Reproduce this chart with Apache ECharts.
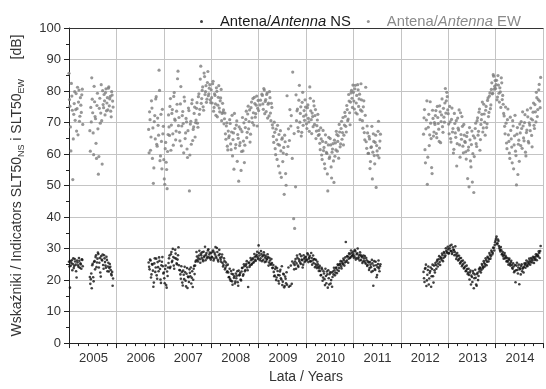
<!DOCTYPE html>
<html>
<head>
<meta charset="utf-8">
<script src="https://cdn.jsdelivr.net/npm/echarts@6/dist/echarts.min.js"></script>
<style>
  html, body { margin: 0; padding: 0; background: #fff; }
  #main { width: 546px; height: 389px; }
</style>
</head>
<body>
<div id="main"></div>
<script>
// two readings per 0.02 year: list A at the segment start, list B 0.01 later; null = no reading
const step = 0.02;
const offsetB = 0.01;
const segStarts = [2005.00, 2005.44, 2006.68, 2007.00, 2008.00, 2009.00, 2010.00, 2011.00, 2012.48, 2013.00, 2014.00];

// Antenna NS [dB], list A
const ns2005a = [25.8, 17.6, 24.6, 26.3, 25.1, 23.8, 26.7, 24.9, 20.8, 25.6, 24.2, 26.1, 25.3, 23.6, 26.4];
const ns2005b = [21.0, 20.3, 17.4, 25.2, 19.6, 26.0, 27.3, 24.1, 26.8, 28.3, 25.5, 22.4, 27.6, 26.2, 24.8, 27.9, 25.7, 23.9, 26.4, 24.3, 22.7, 25.1, 23.2, 21.5, 18.2];
const ns2006 = [25.6, 23.4, 26.2, 21.8, 24.9, 17.9, 25.3, 22.6, 26.8, 20.4, 24.1, 27.2, 23.5, 19.1, 25.8, 24.4];
const ns2007 = [22.4, 19.0, 24.6, 17.6, 21.3,
  25.4, 27.8, 24.2, 28.9, 26.1, 27.3, 23.6, 29.6, 26.8, 25.0, 27.9, 24.7,
  23.1, 20.4, 22.6, 18.3, 21.7, 24.2, 19.8, 22.0, 17.5, 20.9, 23.4, 21.2, 18.9, 22.8, 20.1, 24.5,
  24.6, 26.2, 27.5, 25.9, 27.8, 26.6, 28.4, 27.1, 26.5, 29.0, 27.7, 26.3, 28.6, 27.4, 29.8, 28.1, 27.0];
const ns2008 = [28.6, 27.2, 29.4, 26.8, 28.1, 27.5, 30.2, 26.4, 27.9, 28.3,
  26.5, 27.3, 25.4, 24.8, 26.0, 23.9, 24.6, 22.8,
  22.4, 21.0, 20.3, 22.9, 19.6, 21.8, 20.7, 18.9, 22.1, 21.4, 19.3, 23.0, 21.6, 20.2,
  22.7, 23.9, 21.8, 24.4, 23.2, 25.1, 24.0, 17.8, 25.6, 24.7, 26.3, 25.2, 26.9, 25.8, 27.4, 26.1, 28.0, 27.2];
const ns2009 = [31.0, 27.8, 26.9, 28.3, 27.5, 26.4, 28.0, 27.1, 25.9, 26.8, 27.3, 25.6, 26.2, 24.9, 25.4,
  23.9, 22.6, 21.4, 24.2, 20.8, 22.9, 19.7, 21.5, 23.3, 20.2, 18.4, 22.0, 17.7, 21.1, 19.0,
  18.5, null, 17.9, null, 24.6, 18.8, null, 25.3,
  24.8, 26.7, 25.3, 27.1, 24.2, 26.0, 25.5, 27.6, 26.3, 24.9, 26.8, 27.2];
const ns2010 = [27.4, 26.3, 28.1, 26.8, 27.7, 25.9, 27.0, 26.2, 25.4, 26.6, 25.1, 24.6, 25.8, 24.2, 23.7,
  22.9, 21.6, 23.4, 20.8, 22.1, 18.4, 21.3, 22.7, 17.6, 20.6, 21.9, 18.9, 22.4, 21.0,
  21.8, 23.1, 22.4, 24.0, 23.3, 24.7, 23.8, 25.2, 24.4, 25.9, 25.0, 26.3, 25.6, 32.1, 26.2, 27.5, 26.8, 28.2, 27.3, 28.6,
  27.9];
const ns2011 = [28.3, 27.6, 29.1, 27.0, 28.5, 26.8, 27.9, 28.8, 26.4, 27.3, 25.9, 26.9, 27.6, 25.2, 26.3, 24.8,
  25.6, 23.8, 24.9, 22.6, 25.3, 18.2, 26.0, 23.2, 24.7, 21.6, 25.1, 23.7, 24.4];
const ns2012 = [22.6, 19.4, 23.8, 18.1, 21.7, 24.3, 20.5, 22.9, 17.9, 23.5, 21.2, 24.6, 22.4,
  24.8, 25.9, 24.3, 26.6, 25.7, 27.2, 26.4, 27.9, 27.0, 28.5, 27.8, 29.3, 28.6];
const ns2013 = [29.8, 28.6, 30.9, 29.2, 28.3, 30.4, 29.5, 28.9,
  28.1, 27.4, 27.8, 26.5, 26.9, 25.6, 26.0, 24.8, 25.2, 23.9, 24.3, 23.0, 23.5, 22.4,
  21.6, 22.4, 18.6, 21.0, 22.9, 17.4, 21.8, 20.7, 18.2, 22.3, 21.3,
  22.8, 23.7, 23.2, 24.6, 24.1, 25.4, 25.0, 26.3, 25.8, 27.1, 26.6, 28.0, 27.6, 29.0, 28.6, 30.2, 31.1];
const ns2014 = [32.6, 33.8, 31.7, 32.4,
  30.2, 29.1, 29.5, 28.3, 27.6, 28.0, 26.9, 27.2, 26.1, 25.8, 26.4, 25.2, 25.6,
  24.8, 23.6, 24.3, 22.9, 19.3, 24.6, 23.2, 24.0, 18.7, 23.7, 24.5, 22.8, 23.9, 24.2,
  24.9, 25.3, 24.6, 25.8, 25.4, 26.1, 25.7, 26.5, 26.2, 26.9, 27.3, 26.8, 27.6, 28.1, 27.5, 28.6, 29.2];

// Antenna NS [dB], list B
const ns2005aB = [24.3, 26.0, 25.4, 23.1, 26.9, 24.5, 25.9, 22.8, 26.2, 24.7, 27.0, 23.9, 25.0, 26.6, 24.4];
const ns2005bB = [18.8, 22.1, 24.7, 20.9, 25.8, 23.4, 27.9, 25.6, 28.7, 24.0, 27.0, 21.1, 26.5, 28.1, 23.6, 26.9, 24.6, 27.4, 22.8, 25.5, 23.8, 24.2, 21.9, 22.6, 20.5];
const ns2006B = [24.2, 26.5, 20.8, 25.1, 23.0, 19.2, 26.9, 24.0, 21.5, 25.7, 22.8, 26.1, 20.2, 24.7, 27.3, 22.1];
const ns2007B = [20.6, 23.5, 18.4, 22.7, 24.0,
  26.9, 23.8, 28.2, 25.7, 29.9, 24.6, 27.0, 28.4, 25.3, 26.5, 30.4, 23.2,
  21.8, 24.4, 19.2, 23.0, 20.3, 22.5, 18.0, 23.8, 21.1, 19.4, 22.3, 24.0, 20.7, 17.8, 23.6, 21.9,
  25.8, 28.9, 26.4, 27.0, 29.3, 25.5, 27.9, 28.8, 26.0, 27.3, 30.6, 28.0, 26.9, 29.4, 27.2, 28.7, 26.5];
const ns2008B = [27.4, 29.0, 26.2, 28.7, 30.5, 27.0, 28.9, 25.9, 29.6, 27.1,
  25.8, 28.1, 24.3, 26.9, 23.4, 25.6, 22.5, 24.9,
  20.9, 23.6, 19.8, 22.0, 18.5, 23.3, 21.2, 19.5, 20.6, 22.8, 18.2, 21.5, 22.2, 19.9,
  23.8, 21.4, 25.0, 22.8, 24.6, 26.0, 23.1, 25.4, 24.2, 27.0, 24.9, 26.6, 25.5, 28.3, 26.4, 27.6, 29.0, 26.7];
const ns2009B = [28.6, 26.3, 29.2, 26.0, 27.8, 28.8, 25.7, 27.6, 26.5, 28.2, 24.6, 27.0, 25.1, 26.7, 23.8,
  24.8, 21.2, 23.5, 20.0, 23.8, 21.6, 18.9, 22.7, 20.6, 24.4, 19.5, 21.8, 18.1, 20.4, 22.5,
  null, 24.0, null, 18.2, null, 25.9, null, 23.4,
  25.9, 23.6, 27.8, 24.6, 26.6, 28.2, 25.1, 26.5, 24.0, 27.9, 25.7, 26.1];
const ns2010B = [26.6, 28.5, 25.7, 27.2, 26.0, 28.6, 24.9, 27.8, 26.7, 24.1, 26.4, 23.8, 25.0, 22.9, 24.5,
  21.5, 23.9, 19.8, 22.8, 20.3, 23.6, 19.0, 21.8, 23.1, 18.6, 22.5, 20.0, 17.9, 22.7,
  23.9, 21.5, 23.8, 22.2, 25.0, 22.9, 24.9, 26.0, 23.7, 25.3, 26.8, 24.6, 27.2, 25.8, 27.6, 25.5, 28.5, 27.0, 29.4, 27.6,
  29.0];
const ns2011B = [27.1, 29.5, 26.5, 28.2, 30.0, 27.2, 26.2, 28.0, 27.6, 25.4, 27.8, 26.1, 25.6, 27.0, 24.5, 25.9,
  23.2, 25.7, 24.1, 26.4, 22.9, 24.6, 23.5, 25.8, 20.9, 24.1, 26.2, 22.8, 25.0];
const ns2012B = [20.6, 23.6, 24.9, 19.9, 23.2, 18.6, 22.3, 24.0, 21.2, 24.9, 19.2, 23.1, 25.4,
  23.6, 26.4, 25.2, 27.6, 24.8, 26.9, 28.4, 26.0, 28.9, 27.4, 30.1, 29.0, 30.6];
const ns2013B = [28.4, 30.1, 29.3, 31.2, 28.8, 29.6, 27.9, 30.7,
  26.7, 28.6, 26.2, 27.7, 25.3, 27.0, 24.4, 26.2, 23.7, 25.6, 22.8, 24.6, 21.9, 23.6,
  20.2, 23.0, 21.4, 19.4, 22.2, 20.6, 23.3, 18.6, 21.9, 20.0, 23.5,
  24.0, 22.4, 25.1, 23.7, 26.0, 24.3, 26.9, 24.7, 27.4, 25.9, 28.6, 26.8, 29.4, 28.1, 30.3, 29.4, 32.0];
const ns2014B = [33.2, 31.4, 32.9, 30.8,
  29.6, 30.5, 28.1, 28.9, 26.8, 28.6, 27.7, 25.9, 27.0, 24.9, 26.8, 24.6, 26.1,
  23.9, 25.3, 22.5, 24.8, 23.1, 25.5, 22.1, 24.9, 23.4, 21.8, 25.0, 23.6, 22.4, 25.3,
  23.9, 26.2, 24.4, 25.0, 26.8, 24.9, 27.0, 25.6, 27.4, 25.4, 26.4, 28.2, 26.3, 27.8, 29.1, 27.0, 30.8];

// Antenna EW [dB], list A
const ew2005a = [85.6, 75.2, 61.0, 78.4, 51.9, 72.6, 79.8, 74.1, 67.3, 81.2, 76.5, 70.4, 77.9, 73.2, 80.6];
const ew2005b = [67.4, 74.8, 84.2, 73.1, 59.8, 76.6, 71.2, 58.6, 79.3, 53.6, 74.5, 69.8, 82.0, 56.8, 75.7, 78.9, 72.4, 80.7, 76.2, 74.0, 81.3, 77.5, 73.6, 79.8, 76.8];
const ew2006 = [67.8, 73.4, 61.2, 76.9, 58.6, 50.7, 70.3, 64.8, 78.2, 62.5, 69.1, 86.6, 57.9, 72.6, 55.3, 66.4];
const ew2007 = [58.2, 50.4, 63.7, 55.1, 60.8,
  72.4, 65.9, 77.6, 69.2, 74.1, 62.8, 79.5, 70.7, 67.3, 75.8, 86.3,
  71.6, 64.2, 81.4, 68.9, 73.5, 60.4, 76.8, 66.7, 70.2, 58.9, 74.6, 48.3, 69.5, 63.1, 77.2, 67.8, 72.9, 65.4,
  70.8, 76.3, 68.5, 79.1, 74.2, 87.9, 77.6, 81.3, 73.9, 84.6, 79.8, 76.4, 82.7, 78.5, 80.9, 77.2];
const ew2008 = [80.4, 76.2, 83.1, 74.8, 78.6, 72.3, 79.9, 75.5, 81.7, 73.4, 77.8, 70.6, 76.1, 74.0,
  71.2, 66.4, 68.9, 62.5, 67.3,
  65.8, 69.7, 61.4, 72.3, 64.6, 55.2, 68.1, 63.0, 70.5, 66.2, 51.4, 62.7, 67.9, 60.8, 71.6, 64.1, 57.3,
  68.4, 73.6, 66.9, 75.2, 70.3, 63.8, 74.7, 71.5, 77.6, 69.2, 76.0, 72.8, 78.4, 74.5];
const ew2009 = [73.8, null, 77.1, null,
  78.6, 74.2, 80.3, 76.7, 73.5, 79.4, 75.8, 72.1, 77.9, 70.6, 74.8,
  68.3, 63.7, 66.9, 59.8, 64.5, 69.1, 56.2, 62.8, 67.4, 52.6, 65.1, 60.3, 47.2, 63.9, 50.1,
  78.5, 62.4, null, 74.1, 68.9, null, 86.0, 39.5, 36.4, 49.6,
  70.6, 74.3, 67.2, 81.8, 72.9, 65.7, 76.4, 69.1, 73.8, 77.2];
const ew2010 = [72.4, 68.1, 75.6, 70.2, 81.3, 73.7, 66.5, 71.9, 76.8, 69.4, 74.1, 67.3, 70.8, 65.9,
  66.2, 61.4, 64.8, 58.3, 67.5, 62.1, 55.4, 63.7, 60.2, 48.3, 65.3, 59.1, 62.9, 52.4, 61.6, 57.8, 64.4,
  63.5, 67.2, 60.9, 65.8, 69.4, 62.3, 68.1, 64.7, 71.6, 66.0, 73.2, 68.8, 75.4, 70.6, 78.9, 73.1, 76.5, 80.2, 74.8];
const ew2011 = [79.6, 74.3, 81.8, 76.2, 72.7, 80.4, 77.5, 70.9, 82.3,
  73.6, 68.2, 76.9, 64.5, 81.2, 61.8, 66.7,
  60.2, 64.8, 57.6, 62.3, 52.1, 66.4, 59.5, 63.7, 49.4, 61.0, 67.2, 58.8, 64.1];
const ew2012 = [66.3, 74.1, 57.2, 70.8, 50.4, 68.5, 62.7, 76.6, 64.9, 53.8, 71.3, 67.0,
  69.4, 73.8, 65.2, 71.6, 67.9, 75.3, 63.6, 72.4, 68.7, 74.5, 70.1, 80.8, 76.9, 78.2];
const ew2013 = [72.8, 66.4, 70.2, 63.8, 74.6, 68.1, 61.5, 69.7, 65.3, 56.2, 71.4, 67.6, 62.9, 73.1, 64.7, 68.8, 60.4, 66.0,
  63.7, 58.4, 66.8, 61.2, 49.6, 64.5, 55.9, 67.3, 60.1, 47.8,
  65.1, 69.8, 62.4, 71.5, 67.2, 74.3, 64.6, 70.9, 76.5, 68.3, 72.7, 66.0, 75.1, 69.6, 77.8, 73.2, 79.4, 75.6,
  82.6, 79.3, 84.7, 81.5];
const ew2014 = [80.8, 83.4, 78.1, 81.9, 76.5, 79.7, 84.2, 77.3, 75.8,
  72.1, 66.4, 69.8, 61.7, 74.3, 64.0, 58.6, 67.5, 62.2, 70.6, 55.3, 65.8, 60.9, 50.2, 68.4, 63.1, 57.7,
  66.7, 70.3, 61.8, 68.9, 64.2, 72.5, 59.4, 67.6, 71.8, 63.5, 69.2, 74.6, 65.9, 70.8, 76.2, 68.1, 73.4, 79.6, 71.9, 77.3, 82.1, 74.7];

// Antenna EW [dB], list B
const ew2005aB = [77.3, 68.6, 82.4, 73.9, 64.8, 76.0, 70.7, 79.2, 74.4, 66.1, 80.3, 72.0, 75.5, 78.8, 69.4];
const ew2005bB = [60.9, 70.2, 77.4, 66.7, 81.5, 71.9, 63.4, 75.4, 68.0, 59.2, 77.7, 73.0, 70.6, 80.1, 74.7, 76.9, 79.5, 73.7, 77.9, 80.9, 75.3, 78.3, 71.8, 78.7, 74.9];
const ew2006B = [60.4, 70.9, 65.4, 74.6, 68.3, 55.6, 72.2, 77.5, 63.1, 71.4, 66.0, 80.2, 59.4, 64.0, 74.2, 68.8];
const ew2007B = [52.1, 61.7, 57.4, 49.0, 66.2,
  68.6, 75.1, 61.2, 72.9, 66.4, 78.3, 71.1, 64.5, 73.6, 83.9, 69.0,
  66.9, 75.9, 62.6, 72.2, 69.7, 78.1, 64.9, 71.3, 61.6, 67.4, 73.8, 59.7, 70.4, 76.0, 64.3, 68.6, 74.9, 70.0,
  74.5, 69.8, 78.2, 72.6, 83.8, 76.1, 80.2, 75.0, 85.7, 78.9, 81.7, 77.4, 86.2, 79.1, 82.0, 76.3];
const ew2008B = [77.9, 82.3, 73.6, 79.1, 75.9, 81.0, 71.8, 78.0, 74.6, 76.9, 80.5, 72.9, 73.3, 69.6,
  73.0, 64.7, 69.9, 61.3, 65.2,
  70.9, 63.2, 67.0, 59.4, 66.7, 72.9, 61.9, 69.2, 57.7, 65.0, 68.6, 63.6, 54.8, 67.1, 61.0, 69.9, 62.8,
  71.0, 65.2, 72.7, 68.0, 74.0, 66.3, 76.5, 70.0, 73.1, 78.0, 71.7, 75.5, 68.9, 77.0];
const ew2009B = [null, 75.6, null, 79.0,
  75.9, 80.8, 72.8, 77.3, 78.9, 71.4, 76.2, 79.8, 73.0, 76.1, 69.3,
  65.6, 70.1, 61.7, 67.9, 58.3, 63.1, 66.2, 54.0, 61.0, 64.7, 57.6, 62.1, 66.0, 53.8, 59.9,
  null, 68.0, 64.3, null, 72.2, 58.6, null, 66.5, null, 78.8,
  73.7, 68.4, 77.1, 70.1, 75.0, 66.9, 79.6, 72.0, 70.7, 74.9];
const ew2010B = [69.6, 74.7, 71.3, 67.2, 77.7, 70.9, 73.0, 68.7, 75.3, 72.2, 64.9, 69.0, 72.6, 67.5,
  63.4, 68.3, 59.7, 64.0, 61.1, 56.9, 66.1, 60.5, 53.7, 62.9, 58.6, 64.9, 55.9, 60.6, 63.3, 51.0, 59.3,
  61.3, 66.2, 64.0, 58.7, 67.0, 63.2, 70.4, 66.8, 62.9, 69.2, 72.0, 67.0, 74.1, 71.1, 76.8, 69.3, 79.4, 77.7, 81.9];
const ew2011B = [76.8, 80.7, 73.1, 78.6, 82.0, 75.1, 79.0, 74.0, 77.2,
  70.6, 75.0, 66.8, 72.3, 63.9, 68.9, 60.2,
  65.6, 55.4, 62.1, 68.8, 60.6, 64.0, 56.9, 66.0, 62.7, 59.6, 70.4, 61.9, 66.3];
const ew2012B = [71.5, 61.4, 68.0, 76.9, 59.0, 72.6, 66.1, 69.8, 55.7, 73.9, 65.7, 70.0,
  72.2, 66.5, 75.1, 69.7, 64.0, 73.4, 70.3, 77.5, 66.9, 71.7, 76.2, 73.0, 79.6, 74.0];
const ew2013B = [69.5, 75.1, 64.9, 71.0, 67.0, 60.3, 72.9, 66.7, 70.6, 63.3, 68.2, 74.0, 59.0, 66.2, 71.9, 62.5, 69.4, 64.0,
  60.7, 65.6, 52.2, 62.2, 68.4, 57.8, 63.0, 51.1, 65.8, 59.2,
  68.1, 63.3, 70.6, 66.0, 73.3, 61.2, 69.4, 72.6, 67.0, 75.8, 70.1, 73.9, 68.4, 77.0, 71.9, 78.4, 74.4, 80.5,
  79.1, 85.2, 80.6, 83.3];
const ew2014B = [82.0, 77.2, 84.9, 79.3, 81.0, 74.8, 82.6, 78.6, 72.9,
  68.8, 74.9, 63.5, 70.9, 66.1, 60.3, 71.7, 64.8, 57.2, 68.9, 62.9, 72.3, 59.5, 66.3, 53.5, 64.4, 69.5,
  62.7, 68.1, 73.4, 65.1, 70.0, 60.6, 66.8, 74.0, 64.0, 69.9, 67.4, 71.2, 62.3, 73.3, 69.1, 75.7, 70.2, 77.9, 74.1, 80.4, 76.8, 84.3];

const nsA = [ns2005a, ns2005b, ns2006, ns2007, ns2008, ns2009, ns2010, ns2011, ns2012, ns2013, ns2014];
const nsB = [ns2005aB, ns2005bB, ns2006B, ns2007B, ns2008B, ns2009B, ns2010B, ns2011B, ns2012B, ns2013B, ns2014B];
const ewA = [ew2005a, ew2005b, ew2006, ew2007, ew2008, ew2009, ew2010, ew2011, ew2012, ew2013, ew2014];
const ewB = [ew2005aB, ew2005bB, ew2006B, ew2007B, ew2008B, ew2009B, ew2010B, ew2011B, ew2012B, ew2013B, ew2014B];

function toPoints(segments, offset) {
  const pts = [];
  segments.forEach((vals, k) => {
    vals.forEach((v, i) => {
      if (v !== null) pts.push([+(segStarts[k] + offset + i * step).toFixed(3), v]);
    });
  });
  return pts;
}

const chart = echarts.init(document.getElementById('main'));
const font = 'Liberation Sans, Arial, sans-serif';
const gridColor = '#c4c4c4';

const option = {
  backgroundColor: '#fff',
  animation: false,
  textStyle: { fontFamily: font },
  legend: {
    left: 195,
    top: 9,
    icon: 'circle',
    itemWidth: 3,
    itemHeight: 3,
    itemGap: 16,
    data: ['NS', 'EW'],
    formatter: function (name) {
      if (name === 'NS') return '{n|Antena/}{ni|Antenna}{n| NS}';
      return '{e|Antena/}{ei|Antenna}{e| EW}';
    },
    textStyle: {
      padding: [0, 0, 0, 12],
      rich: {
        n: { fontSize: 14.8, color: '#1a1a1a', fontFamily: font },
        ni: { fontSize: 14.8, color: '#1a1a1a', fontStyle: 'italic', fontFamily: font },
        e: { fontSize: 14.8, color: '#8a8a8a', fontFamily: font },
        ei: { fontSize: 14.8, color: '#8a8a8a', fontStyle: 'italic', fontFamily: font }
      }
    }
  },
  grid: { left: 69, top: 28, width: 482, bottom: 39 },
  xAxis: [{
    type: 'value',
    min: 2005,
    max: 2015,
    interval: 1,
    name: 'Lata / Years',
    nameLocation: 'middle',
    nameGap: 25,
    nameTextStyle: { fontSize: 14, color: '#333', fontFamily: font },
    axisLine: { lineStyle: { color: '#222', width: 1 } },
    axisTick: { length: 5, lineStyle: { color: '#222' } },
    minorTick: { show: true, splitNumber: 5, length: 3, lineStyle: { color: '#222' } },
    splitLine: { show: true, lineStyle: { color: gridColor, width: 1 } },
    axisLabel: {
      align: 'left',
      padding: [0, 0, 0, 10],
      margin: 9,
      fontSize: 13,
      color: '#333',
      formatter: v => (v >= 2015 ? '' : String(v))
    }
  }, {
    type: 'value',
    position: 'top',
    min: 2005,
    max: 2015,
    axisLine: { show: true, lineStyle: { color: '#333', width: 1 } },
    axisTick: { show: false },
    axisLabel: { show: false },
    splitLine: { show: false }
  }],
  yAxis: {
    type: 'value',
    min: 0,
    max: 100,
    interval: 10,
    name: '{a|Wskaźniki / Indicators SLT50}{s|NS}{a| i SLT50}{s|EW}{a|     [dB]}',
    nameLocation: 'middle',
    nameGap: 43,
    nameTextStyle: {
      color: '#333',
      rich: {
        a: { fontSize: 14, color: '#333', lineHeight: 17, fontFamily: font },
        s: { fontSize: 9, color: '#333', lineHeight: 10, verticalAlign: 'bottom', fontFamily: font }
      }
    },
    axisLine: { show: true, lineStyle: { color: '#222', width: 1 } },
    axisTick: { show: true, length: 5, lineStyle: { color: '#222' } },
    minorTick: { show: true, splitNumber: 2, length: 3, lineStyle: { color: '#222' } },
    splitLine: { show: true, lineStyle: { color: gridColor, width: 1 } },
    axisLabel: { fontSize: 13, color: '#333', margin: 8 }
  },
  series: [{
    name: 'EW',
    type: 'scatter',
    symbolSize: 3.2,
    itemStyle: { color: '#7d7d7d' },
    data: toPoints(ewA, 0).concat(toPoints(ewB, offsetB))
  }, {
    name: 'NS',
    type: 'scatter',
    symbolSize: 2.6,
    itemStyle: { color: '#111' },
    data: toPoints(nsA, 0).concat(toPoints(nsB, offsetB))
  }]
};

chart.setOption(option);
</script>
</body>
</html>
